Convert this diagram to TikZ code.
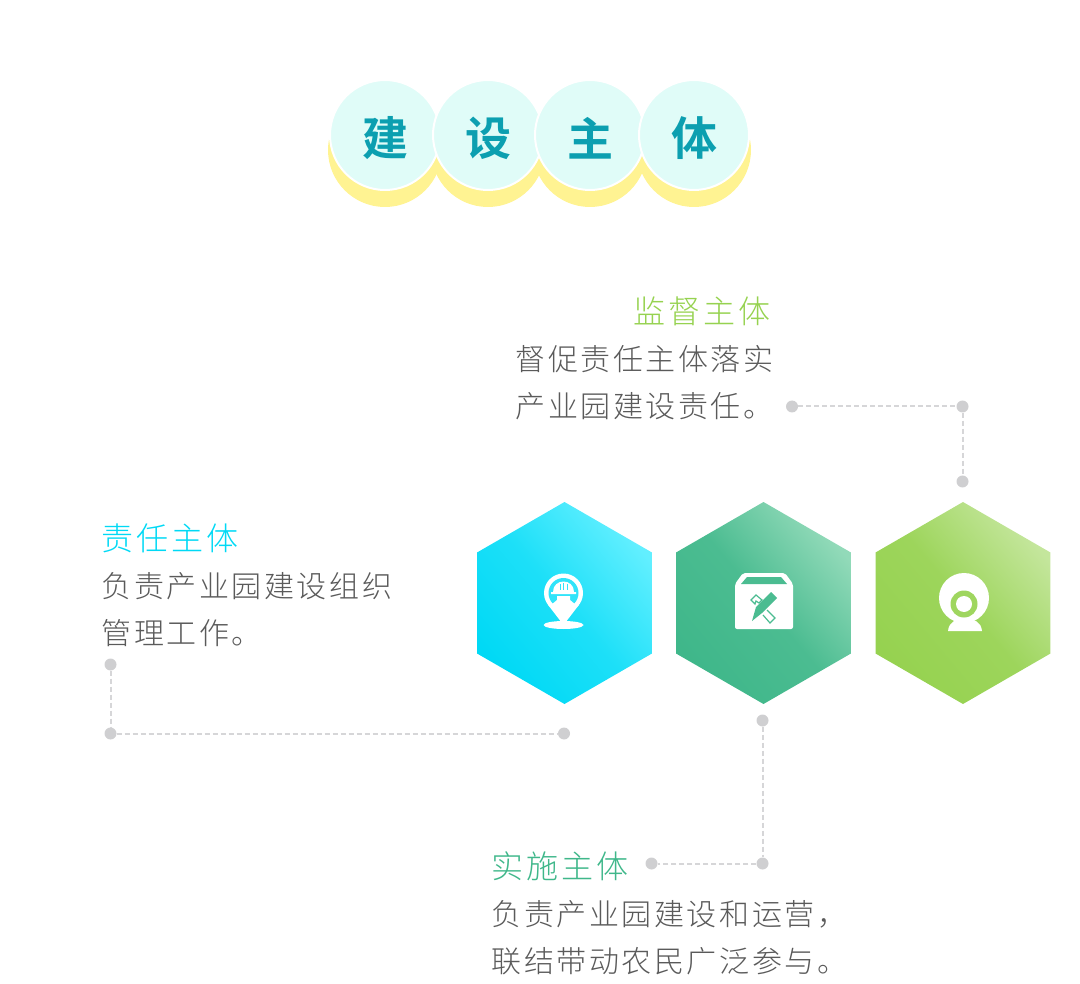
\documentclass[tikz,border=0pt]{standalone}
\usepackage{fontspec}
\usetikzlibrary{shapes.geometric}
\newfontfamily\titlefont{Noto Sans CJK SC Bold}
\newfontfamily\headfont[LetterSpace=10]{Noto Sans CJK SC Light}
\newfontfamily\bodyfont[LetterSpace=8.5]{Noto Sans CJK SC Light}
\newcommand{\discchar}[1]{\raisebox{-3pt}[\height][\depth]{#1}}
\definecolor{titleteal}{HTML}{0C9FB0}
\definecolor{discfill}{HTML}{E0FCF8}
\definecolor{discshadow}{HTML}{FFF392}
\definecolor{linegray}{HTML}{CFCFD1}
\definecolor{textgray}{HTML}{5A5A5A}
\definecolor{cyanA}{HTML}{00D9F5}
\definecolor{cyanB}{HTML}{62EFFF}
\definecolor{greenA}{HTML}{3FB78A}
\definecolor{greenB}{HTML}{92DAB9}
\definecolor{limeA}{HTML}{96D250}
\definecolor{limeB}{HTML}{C4E69C}
\tikzset{
	disc/.style = {circle, fill = discfill, draw = white, line width = 2, minimum size = 110, inner sep = 0, text = titleteal, font = \titlefont\fontsize{46}{46}\selectfont},
	discback/.style = {circle, fill = discshadow, minimum size = 114, inner sep = 0},
	hexa/.style = {regular polygon, regular polygon sides = 6, shape border rotate = 30, minimum size = 202, inner sep = 0, outer sep = 0},
	dot/.style = {circle, fill = linegray, minimum size = 12, inner sep = 0},
	link/.style = {draw = linegray!85, line width = 2, dash pattern = on 5pt off 3pt},
	head/.style = {anchor = west, inner sep = 0, font = \headfont\fontsize{32}{32}\selectfont},
	body/.style = {anchor = west, inner sep = 0, align = left, text = textgray, font = \bodyfont\fontsize{30}{47}\selectfont}
}
\begin{document}
\begin{tikzpicture}[x=1pt,y=-1pt]
	\useasboundingbox (0,0) rectangle (1080,984);
	\node (B1) at (385, 150)	[discback]	{};
	\node (B2) at (488, 150)	[discback]	{};
	\node (B3) at (590, 150)	[discback]	{};
	\node (B4) at (694, 150)	[discback]	{};
	\node (T1) at (385, 135)	[disc]	{\discchar{建}};
	\node (T2) at (488, 135)	[disc]	{\discchar{设}};
	\node (T3) at (590, 135)	[disc]	{\discchar{主}};
	\node (T4) at (694, 135)	[disc]	{\discchar{体}};

	\node (X1) at (564.5, 603)	[hexa, bottom color = cyanA, top color = cyanB, middle color = cyanA!70!cyanB, shading angle = -50]	{};
	\node (X2) at (763.5, 603)	[hexa, bottom color = greenA, top color = greenB, middle color = greenA!85!greenB, shading angle = -50]	{};
	\node (X3) at (963, 603)	[hexa, bottom color = limeA, top color = limeB, middle color = limeA!85!limeB, shading angle = -50]	{};

	\fill[white] (548.1,604.9) -- (563.5,625) -- (578.9,604.9) -- cycle;
	\fill[white] (563.5,593) circle [radius = 19.5pt];
	\fill[white] (563.5,625) ellipse [x radius = 20pt, y radius = 4pt];
	\fill[cyanA!50!cyanB] (563.5,593) circle [radius = 15pt];
	\fill[white] (553,592) .. controls (553,578) and (574,578) .. (574,592) -- (576,592) -- (576,594) -- (551,594) -- (551,592) -- cycle;
	\fill[white] (557,596) -- (570,596) -- (570,600) -- (576,605) -- (566,617) -- (561,617) -- (551,605) -- (557,600) -- cycle;
	\draw[cyanA!50!cyanB, line width = 0.8] (560,584) -- (560,590) (563.5,583) -- (563.5,590) (567,584) -- (567,590);

	\fill[white, rounded corners = 2pt] (743,573) -- (785,573) -- (793,584) -- (793,629) -- (735,629) -- (735,584) -- cycle;
	\fill[greenA!85!greenB] (747,577) -- (781,577) -- (787,584) -- (741,584) -- cycle;
	\fill[greenA!85!greenB] (752,621) -- (756,607) -- (771,592) -- (777,598) -- (762,613) -- cycle;
	\draw[greenA!85!greenB, line width = 1.2] (751,600) -- (756,595) -- (762,600) -- (759,603) -- (756,601) -- (755,604) -- cycle;
	\draw[greenA!85!greenB, line width = 1.2] (767,610) -- (775,618) -- (770,623) -- (763,615);

	\fill[white] (964,598) circle [radius = 25pt];
	\fill[white] (948,631) .. controls (949,622) and (955,619) .. (965,619) .. controls (975,619) and (981,622) .. (982,631) -- cycle;
	\fill[limeA!80!limeB] (964,604) circle [radius = 13.5pt];
	\fill[white] (964,604) circle [radius = 8pt];

	\node (M0) at (633, 311)	[head, text = limeA]	{监督主体};
	\node (M1) at (515.5, 383)	[body]	{督促责任主体落实\\产业园建设责任。};
	\node (R0) at (101, 538)	[head, text = cyanA]	{责任主体};
	\node (R1) at (101.5, 610)	[body]	{负责产业园建设组织\\管理工作。};
	\node (S0) at (491, 866)	[head, text = greenA]	{实施主体};
	\node (S1) at (491.5, 938)	[body]	{负责产业园建设和运营，\\联结带动农民广泛参与。};

	\node (D1) at (792, 406.5)	[dot]	{};
	\node (D2) at (962.5, 406.5)	[dot]	{};
	\node (D3) at (962.5, 481.5)	[dot]	{};
	\node (D4) at (110.5, 664.5)	[dot]	{};
	\node (D5) at (110.5, 733.5)	[dot]	{};
	\node (D6) at (564, 733.5)	[dot]	{};
	\node (D7) at (762.5, 720.5)	[dot]	{};
	\node (D8) at (762.5, 863.5)	[dot]	{};
	\node (D9) at (651.5, 863.5)	[dot]	{};
	\draw[link] (D1) -- (D2);
	\draw[link] (D2) -- (D3);
	\draw[link] (D4) -- (D5);
	\draw[link] (D5) -- (D6);
	\draw[link] (D7) -- (D8);
	\draw[link] (D8) -- (D9);
\end{tikzpicture}
\end{document}
